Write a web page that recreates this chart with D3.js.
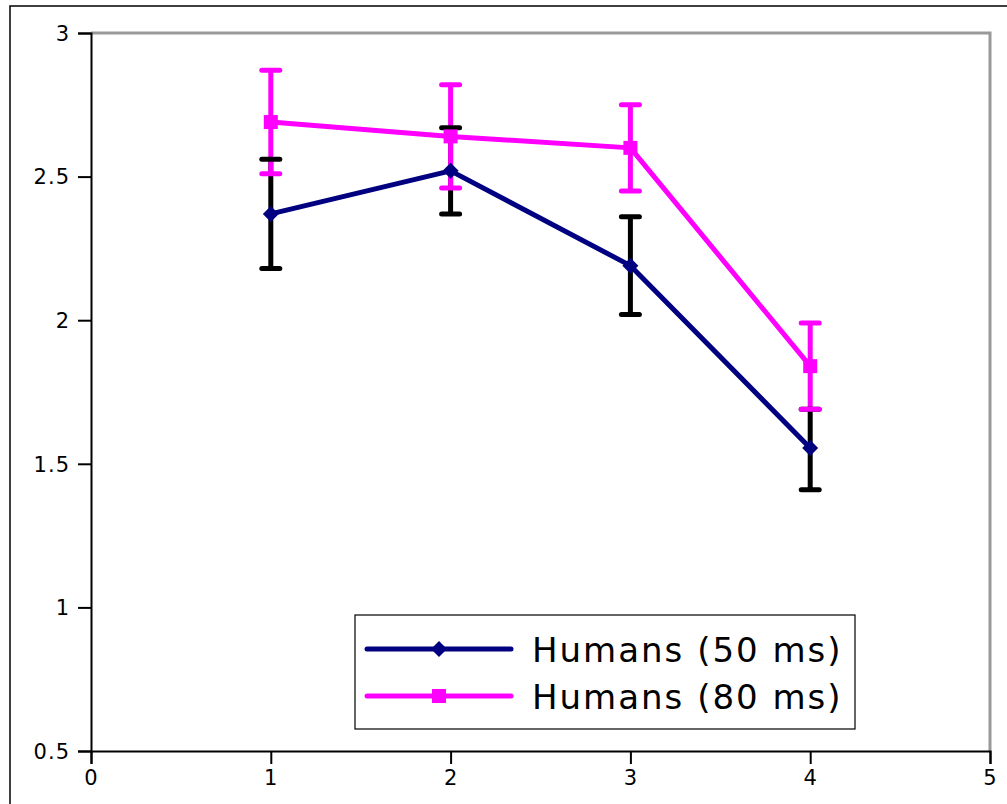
<!DOCTYPE html>
<html><head><meta charset="utf-8">
<script src="https://cdn.jsdelivr.net/npm/d3@7"></script>
<style>body{margin:0;background:#fff}svg{display:block;font-family:"DejaVu Sans",sans-serif}</style>
</head><body><svg id="c" width="1007" height="804"></svg>
<script>
const xValues = [1, 2, 3, 4];
const series50 = [2.37, 2.52, 2.19, 1.555];
const err50Hi = [2.56, 2.67, 2.36, 1.69];
const err50Lo = [2.18, 2.37, 2.02, 1.41];
const series80 = [2.69, 2.64, 2.60, 1.84];
const err80Hi = [2.87, 2.82, 2.75, 1.99];
const err80Lo = [2.51, 2.46, 2.45, 1.69];
const xTicks = [0, 1, 2, 3, 4, 5];
const yTicks = [0.5, 1, 1.5, 2, 2.5, 3];
const yTickLabels = ["0.5", "1", "1.5", "2", "2.5", "3"];
const legendLabels = ["Humans (50 ms)", "Humans (80 ms)"];
const colors = ["#000080", "#ff00ff"];

const svg = d3.select("#c");
const L = 91, R = 990, T = 33, B = 751;
const x = d3.scaleLinear().domain([0, 5]).range([L, R]);
const y = d3.scaleLinear().domain([0.5, 3]).range([B, T]);

// outer frame
svg.append("rect").attr("x", 10).attr("y", 6).attr("width", 1010).attr("height", 820)
  .attr("fill", "none").attr("stroke", "#000").attr("stroke-width", 1.5);

// grey top/right frame
svg.append("path").attr("d", `M${L},${T}H${R}V${B}`).attr("fill", "none")
  .attr("stroke", "#999").attr("stroke-width", 3);

// axes
const yAxis = d3.axisLeft(y).tickValues(yTicks).tickFormat((d, i) => yTickLabels[i]).tickSizeOuter(0).tickSize(13).tickPadding(8);
const xAxis = d3.axisBottom(x).tickValues(xTicks).tickFormat(d3.format("d")).tickSizeOuter(0).tickSize(13).tickPadding(6);
const gy = svg.append("g").attr("transform", `translate(${L},0)`).call(yAxis);
const gx = svg.append("g").attr("transform", `translate(0,${B})`).call(xAxis);
[gx, gy].forEach(g => {
  g.select(".domain").attr("stroke", "#000").attr("stroke-width", 2);
  g.selectAll(".tick line").attr("stroke", "#000").attr("stroke-width", 2);
  g.selectAll(".tick text").attr("fill", "#000").style("font-size", "21px").style("font-family", "DejaVu Sans").attr("letter-spacing", 1);
});
gy.selectAll(".tick text").attr("dy", "0.35em");

const sets = [
  {v: series50, hi: err50Hi, lo: err50Lo, color: colors[0], bar: "#000"},
  {v: series80, hi: err80Hi, lo: err80Lo, color: colors[1], bar: colors[1]}
];
const capW = 9;
// error verticals
sets.forEach(s => {
  svg.append("g").selectAll("line").data(xValues).join("line")
    .attr("x1", d => x(d)).attr("x2", d => x(d))
    .attr("y1", (d, i) => y(s.hi[i])).attr("y2", (d, i) => y(s.lo[i]))
    .attr("stroke", s.bar).attr("stroke-width", 5);
});
// caps
sets.forEach(s => {
  const g = svg.append("g");
  [s.hi, s.lo].forEach(arr => {
    g.append("g").selectAll("line").data(xValues).join("line")
      .attr("x1", d => x(d) - capW).attr("x2", d => x(d) + capW)
      .attr("y1", (d, i) => y(arr[i])).attr("y2", (d, i) => y(arr[i]))
      .attr("stroke", s.bar).attr("stroke-width", 5).attr("stroke-linecap", "round");
  });
});
// lines & markers
const line = d3.line().x(d => x(d[0])).y(d => y(d[1]));
sets.forEach((s, si) => {
  svg.append("path").datum(xValues.map((d, i) => [d, s.v[i]]))
    .attr("d", line).attr("fill", "none").attr("stroke", s.color).attr("stroke-width", 5)
    .attr("stroke-linejoin", "round").attr("stroke-linecap", "round");
  const g = svg.append("g");
  g.selectAll("path").data(xValues).join("path")
    .attr("transform", (d, i) => `translate(${x(d)},${y(s.v[i])})`)
    .attr("d", si === 0 ? "M0,-8L8,0L0,8L-8,0Z" : "M-7,-7H7V7H-7Z")
    .attr("fill", s.color);
});

// legend
const lg = svg.append("g");
lg.append("rect").attr("x", 355).attr("y", 615).attr("width", 500).attr("height", 114)
  .attr("fill", "#fff").attr("stroke", "#000").attr("stroke-width", 1.2);
const ly = [649, 696];
legendLabels.forEach((lab, i) => {
  lg.append("line").attr("x1", 367).attr("x2", 511).attr("y1", ly[i]).attr("y2", ly[i])
    .attr("stroke", colors[i]).attr("stroke-width", 5).attr("stroke-linecap", "round");
  lg.append("path").attr("transform", `translate(439,${ly[i]})`)
    .attr("d", i === 0 ? "M0,-8L8,0L0,8L-8,0Z" : "M-7,-7H7V7H-7Z").attr("fill", colors[i]);
  lg.append("text").attr("x", 532).attr("y", ly[i] + 13).text(lab)
    .style("font-size", "34px").attr("letter-spacing", 2).attr("fill", "#000");
});
</script></body></html>
